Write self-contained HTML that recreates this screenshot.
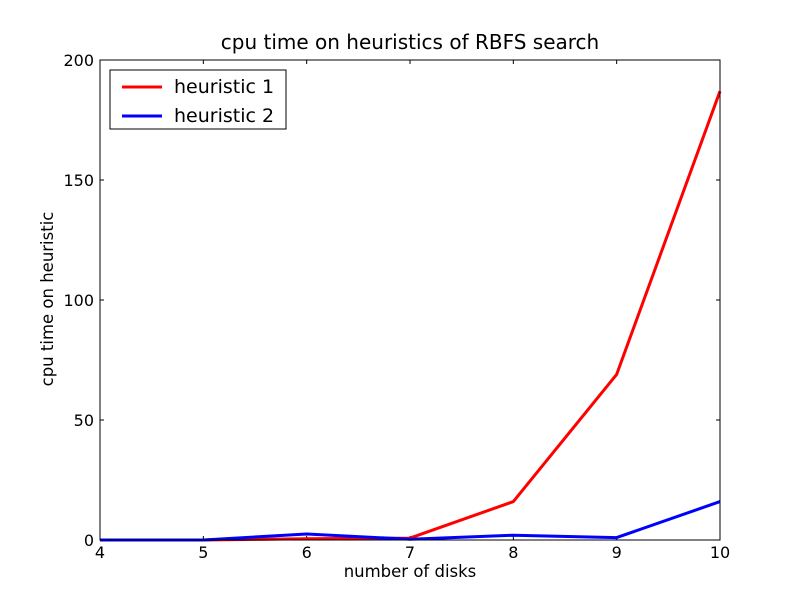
<!DOCTYPE html>
<html><head><meta charset="utf-8"><style>
body{margin:0;background:#fff;}
svg{font-family:"DejaVu Sans","Liberation Sans",sans-serif;}
</style></head><body>
<svg id="chart" width="800" height="600">
<rect width="800" height="600" fill="#fff"/>
<text x="410" y="49" text-anchor="middle" font-size="20">cpu time on heuristics of RBFS search</text>
<text x="410" y="577" text-anchor="middle" font-size="16.5">number of disks</text>
<text transform="translate(53,299) rotate(-90)" text-anchor="middle" font-size="16.5">cpu time on heuristic</text>
<g id="ticks"></g>
<g id="series"></g>
<rect x="100" y="60" width="620" height="480" fill="none" stroke="#000" stroke-width="1"/>
<g>
<rect x="110" y="70" width="176" height="59" fill="#fff" stroke="#000"/>
<g>
<line x1="122" y1="87" x2="162" y2="87" stroke="#f00" stroke-width="3"/>
<text x="174" y="93" font-size="19">heuristic 1</text></g>
<g>
<line x1="122" y1="116" x2="162" y2="116" stroke="#00f" stroke-width="3"/>
<text x="174" y="122" font-size="19">heuristic 2</text></g>
</g>
</svg>
<script>
const categories=[4,5,6,7,8,9,10];
const heuristic1=[0,0,0.5,0.8,16,69,187];
const heuristic2=[0,0,2.5,0.3,2,1,16];
const yTicks=[0,50,100,150,200];
const xTicks=[4,5,6,7,8,9,10];
const NS="http://www.w3.org/2000/svg";
const X=v=>100+(v-4)*620/6, Y=v=>540-v*2.4;
const tg=document.getElementById('ticks');
function mk(t,a,p){const e=document.createElementNS(NS,t);for(const k in a)e.setAttribute(k,a[k]);p.appendChild(e);return e;}
xTicks.forEach(v=>{
 const x=X(v);
 mk('line',{x1:x,y1:540,x2:x,y2:536,stroke:'#000'},tg);
 mk('line',{x1:x,y1:60,x2:x,y2:64,stroke:'#000'},tg);
 const t=mk('text',{x:x,y:558,'text-anchor':'middle','font-size':16},tg);t.textContent=v;
 
 
});
yTicks.forEach(v=>{
 const y=Y(v);
 mk('line',{x1:100,y1:y,x2:104,y2:y,stroke:'#000'},tg);
 mk('line',{x1:720,y1:y,x2:716,y2:y,stroke:'#000'},tg);
 const t=mk('text',{x:94,y:y+6,'text-anchor':'end','font-size':16},tg);t.textContent=v;
 
 
});
const sg=document.getElementById('series');
[[heuristic1,'#f00','heuristic-1-line'],[heuristic2,'#00f','heuristic-2-line']].forEach(([d,c,n])=>{
 const p=mk('polyline',{points:d.map((v,i)=>X(categories[i])+','+Y(v)).join(' '),fill:'none',stroke:c,'stroke-width':3,'stroke-linejoin':'round'},sg);
 
 
});
</script>
</body></html>
